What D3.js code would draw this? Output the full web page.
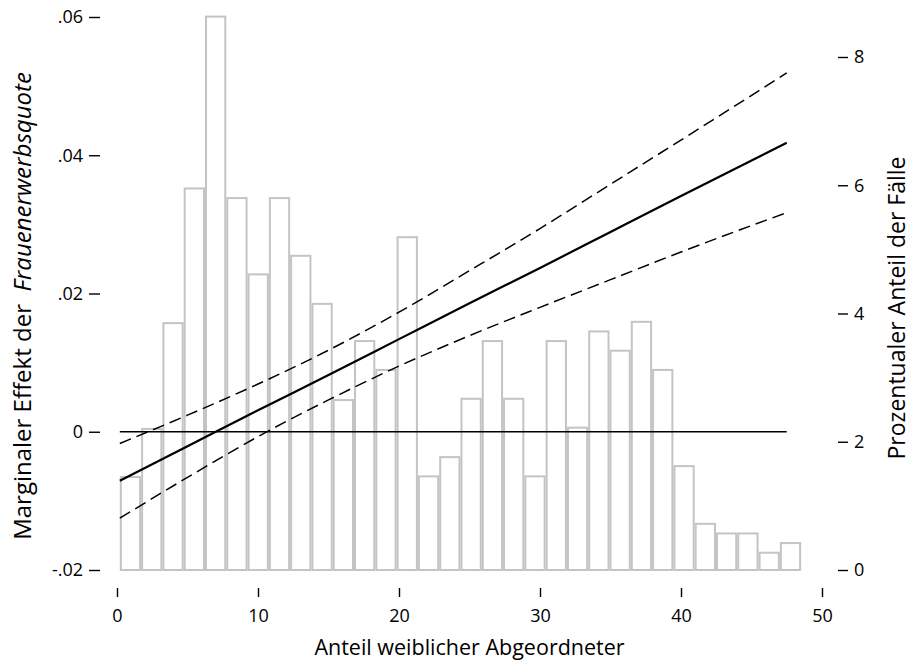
<!DOCTYPE html>
<html>
<head>
<meta charset="utf-8">
<script src="https://cdn.jsdelivr.net/npm/d3@7"></script>
<style>
  body { margin: 0; background: #fff; }
  text { font-family: "Open Sans", sans-serif; fill: #000; }
</style>
</head>
<body>
<div id="chart"></div>
<script>
// Histogram of cases (right axis, percent) + marginal effect with CI (left axis)
const binEdges = [0.20, 1.71, 3.22, 4.73, 6.24, 7.75, 9.26, 10.77, 12.28, 13.79, 15.30,
  16.81, 18.32, 19.83, 21.34, 22.85, 24.36, 25.87, 27.38, 28.89, 30.40, 31.91, 33.42,
  34.93, 36.44, 37.95, 39.46, 40.97, 42.48, 43.99, 45.50, 47.01, 48.52];
const binPercent = [1.45, 2.20, 3.85, 5.95, 8.63, 5.80, 4.61, 5.80, 4.90, 4.15, 2.65,
  3.57, 3.12, 5.19, 1.46, 1.76, 2.67, 3.57, 2.67, 1.46, 3.57, 2.22, 3.72, 3.42, 3.87,
  3.12, 1.62, 0.72, 0.57, 0.57, 0.27, 0.42];

const effX     = [0.2, 5, 10, 15, 20, 25, 30, 35, 40, 47.5];
const effect   = [-0.0071, -0.0021, 0.0031, 0.0082, 0.0134, 0.0186, 0.0237, 0.0289, 0.0341, 0.0418];
const ciUpper  = [-0.0017, 0.0024, 0.0069, 0.0118, 0.0173, 0.0233, 0.0294, 0.0358, 0.0422, 0.0519];
const ciLower  = [-0.0125, -0.0066, -0.0007, 0.0046, 0.0095, 0.0139, 0.0180, 0.0220, 0.0260, 0.0317];
const zeroLine = [0.2, 47.5];

const xTicks = [0, 10, 20, 30, 40, 50];
const leftTicks = [-0.02, 0, 0.02, 0.04, 0.06];
const rightTicks = [0, 2, 4, 6, 8];

const W = 913, H = 661;
const svg = d3.select("#chart").append("svg").attr("width", W).attr("height", H);

const x = d3.scaleLinear().domain([0, 50]).range([117, 822]);
const yL = d3.scaleLinear().domain([-0.02, 0.06]).range([570, 17]);
const yR = d3.scaleLinear().domain([0, 8]).range([570, 57]);

// bars
svg.append("g").selectAll("rect").data(binPercent).join("rect")
  .attr("x", (d, i) => x(binEdges[i]) + 1)
  .attr("width", (d, i) => x(binEdges[i + 1]) - x(binEdges[i]) - 2)
  .attr("y", d => yR(d))
  .attr("height", d => yR(0) - yR(d))
  .attr("fill", "#fff").attr("stroke", "#c4c4c4").attr("stroke-width", 2);

// zero reference line
svg.append("line")
  .attr("x1", x(zeroLine[0])).attr("x2", x(zeroLine[1]))
  .attr("y1", yL(0)).attr("y2", yL(0))
  .attr("stroke", "#000").attr("stroke-width", 1.5);

const line = vals => d3.line().curve(d3.curveMonotoneX)
  .x((d, i) => x(effX[i])).y(d => yL(d))(vals);

svg.append("path").attr("d", line(ciUpper)).attr("fill", "none")
  .attr("stroke", "#000").attr("stroke-width", 1.5).attr("stroke-dasharray", "12,6");
svg.append("path").attr("d", line(ciLower)).attr("fill", "none")
  .attr("stroke", "#000").attr("stroke-width", 1.5).attr("stroke-dasharray", "12,6");
svg.append("path").attr("d", line(effect)).attr("fill", "none")
  .attr("stroke", "#000").attr("stroke-width", 2.2);

// axes
const fmtL = d => d === 0 ? "0" : (d < 0 ? "-" : "") + "." + String(Math.round(Math.abs(d) * 100)).padStart(2, "0");

const gL = svg.append("g").attr("transform", "translate(100,0)")
  .call(d3.axisLeft(yL).tickValues(leftTicks).tickFormat(fmtL).tickSize(11).tickPadding(6));
const gR = svg.append("g").attr("transform", "translate(838,0)")
  .call(d3.axisRight(yR).tickValues(rightTicks).tickSize(10).tickPadding(6));
const gX = svg.append("g").attr("transform", "translate(0,588)")
  .call(d3.axisBottom(x).tickValues(xTicks).tickSize(9).tickPadding(12));

[gL, gR, gX].forEach(g => {
  g.select(".domain").remove();
  g.selectAll("line").attr("stroke", "#000").attr("stroke-width", 1.4);
  g.selectAll("text").attr("font-size", 18).attr("font-family", "Open Sans, sans-serif").attr("fill", "#000");
});

// titles
svg.append("text").attr("x", x(25)).attr("y", 655).attr("text-anchor", "middle")
  .attr("font-size", 21.5).text("Anteil weiblicher Abgeordneter");

const tL = svg.append("text").attr("transform", "translate(31,306) rotate(-90)")
  .attr("text-anchor", "middle").attr("font-size", 24);
tL.append("tspan").text("Marginaler Effekt der\u00a0 ");
tL.append("tspan").attr("font-style", "italic").text("Frauenerwerbsquote");

svg.append("text").attr("transform", "translate(905,308) rotate(-90)")
  .attr("text-anchor", "middle").attr("font-size", 23).text("Prozentualer Anteil der Fälle");
</script>
</body>
</html>
